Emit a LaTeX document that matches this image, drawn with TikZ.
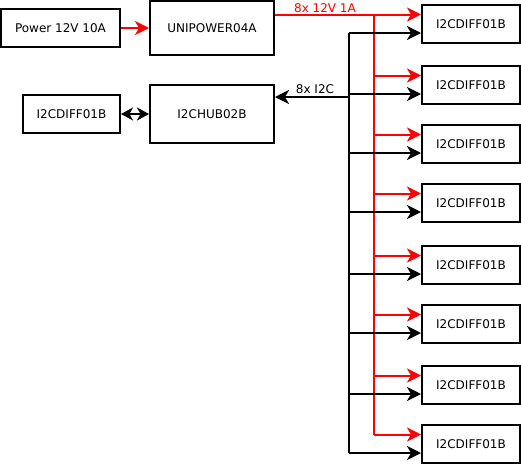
\documentclass[tikz,border=0pt]{standalone}
\usepackage{fontspec}
\setmainfont{DejaVu Sans}
\usetikzlibrary{arrows.meta,calc}
\definecolor{pred}{RGB}{255,0,0}
\tikzset{
  box/.style={draw=black, line width=2pt, fill=white, inner sep=0pt, font=\fontsize{12}{14}\selectfont},
  conn/.style={line width=2pt},
  redconn/.style={conn, draw=pred},
  tip/.style={-{Stealth[length=14pt 0,width=14pt 0,inset=4pt 0]}},
  dtip/.style={{Stealth[length=12pt 0,width=13pt 0,inset=3.5pt 0]}-{Stealth[length=12pt 0,width=13pt 0,inset=3.5pt 0]}},
  lbl/.style={font=\fontsize{12}{14}\selectfont, inner sep=0pt, anchor=base}
}
\begin{document}
\begin{tikzpicture}[x=1pt,y=-1pt]
\useasboundingbox (0,0) rectangle (521,464);
\node[box, minimum width=119pt, minimum height=38pt] (pwr) at (60.5,28) {Power 12V 10A};
\node[box, minimum width=124pt, minimum height=54pt] (uni) at (212,28) {UNIPOWER04A};
\node[box, minimum width=97pt, minimum height=38pt] (ldiff) at (71.5,114) {I2CDIFF01B};
\node[box, minimum width=124pt, minimum height=58pt] (hub) at (212,114) {I2CHUB02B};
\foreach \i/\t in {1/5,2/66,3/125,4/184,5/246,6/305,7/366,8/425} {
  \node[box, minimum width=98pt, minimum height=38pt] (b\i) at (471,\t+19) {I2CDIFF01B};
  \coordinate (r\i) at ([yshift=9.5pt]b\i.west);
  \coordinate (k\i) at ([yshift=-9pt]b\i.west);
}
\coordinate (rv) at (374,0);
\coordinate (bv) at (349,0);
\coordinate (hk) at ([yshift=17pt]hub.east);
% power
\draw[redconn, tip] (pwr) -- (uni);
\draw[conn, dtip] (ldiff) -- (hub);
% red distribution
\draw[redconn] (uni.east |- r1) -- (rv |- r1);
\draw[redconn] (rv |- r1) -- (rv |- r8);
\foreach \i in {1,...,8} {
  \draw[redconn, tip] (rv |- r\i) -- (r\i);
}
% black distribution
\draw[conn] (bv |- k1) -- (bv |- k8);
\draw[conn, tip] (bv |- hk) -- (hk);
\foreach \i in {1,...,8} {
  \draw[conn, tip] (bv |- k\i) -- (k\i);
}
\node[lbl, text=pred] (l1) at (325,12.5) {8x 12V 1A};
\node[lbl] (l2) at (315,93.5) {8x I2C};
\end{tikzpicture}
\end{document}
